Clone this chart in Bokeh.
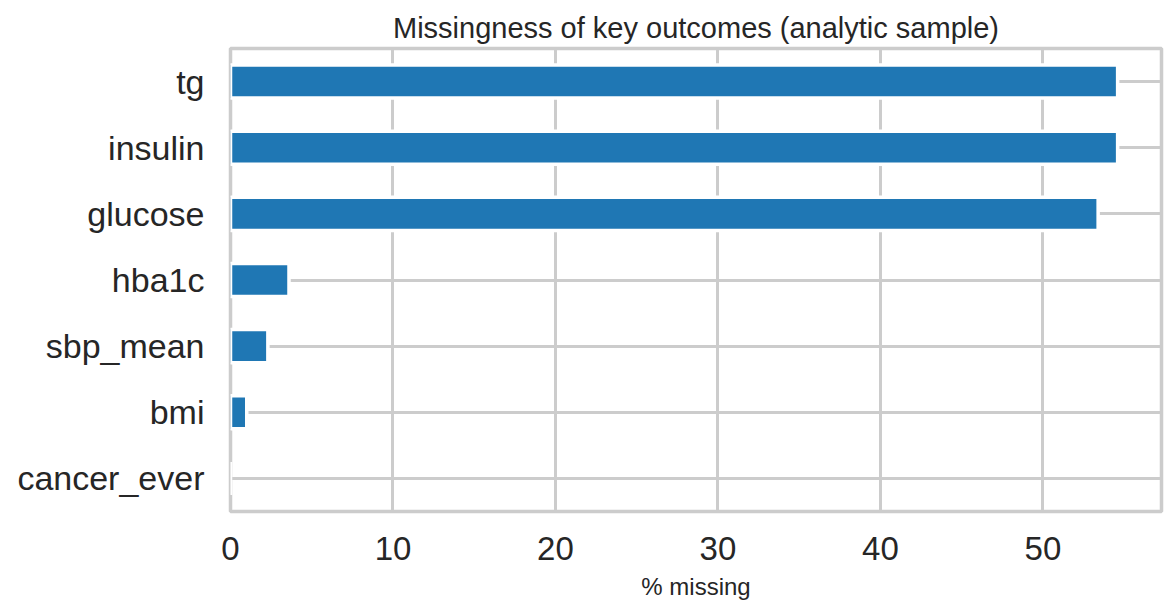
from bokeh.plotting import figure
from bokeh.models import ColumnDataSource, FactorRange, Range1d, FixedTicker
from bokeh.embed import file_html
from bokeh.resources import INLINE

# bottom to top, as in the picture
outcomes = ["cancer_ever", "bmi", "sbp_mean", "hba1c", "glucose", "insulin", "tg"]
pct_missing = [0.0, 1.0, 2.3, 3.6, 53.4, 54.6, 54.6]
x_ticks = [0, 10, 20, 30, 40, 50]

src = ColumnDataSource(data={"outcome": outcomes, "pct": pct_missing})

p = figure(y_range=FactorRange(*outcomes, range_padding=0),
           x_range=Range1d(0, 57.3),
           frame_width=931, frame_height=463,
           min_border_left=230, min_border_right=7,
           min_border_top=48, min_border_bottom=95,
           output_backend="svg", toolbar_location=None,
           title="Missingness of key outcomes (analytic sample)")

p.hbar(y="outcome", left=0, right="pct", height=0.5, source=src,
       fill_color="#1f77b4", line_color="white", line_width=3.5)

p.title.text_font = "Liberation Sans"
p.title.text_font_size = "29px"
p.title.text_font_style = "normal"
p.title.text_color = "#262626"
p.title.align = "center"

p.outline_line_color = "#cccccc"
p.outline_line_width = 3.5
p.outline_line_alpha = 1

p.xaxis.ticker = FixedTicker(ticks=x_ticks)
for ax in (p.xaxis, p.yaxis):
    ax.axis_line_color = None
    ax.major_tick_line_color = None
    ax.minor_tick_line_color = None
    ax.major_label_text_font = "Liberation Sans"
    ax.major_label_text_color = "#262626"

p.xaxis.major_label_text_font_size = "33px"
p.xaxis.major_label_standoff = 19
p.yaxis.major_label_text_font_size = "34px"
p.yaxis.major_label_standoff = 20

p.xaxis.axis_label = "% missing"
p.xaxis.axis_label_text_font = "Liberation Sans"
p.xaxis.axis_label_text_font_size = "24px"
p.xaxis.axis_label_text_font_style = "normal"
p.xaxis.axis_label_text_color = "#262626"
p.xaxis.axis_label_standoff = 10

p.xgrid.grid_line_color = "#cccccc"
p.xgrid.grid_line_width = 3
p.ygrid.grid_line_color = "#cccccc"
p.ygrid.grid_line_width = 3

open("out.html", "w").write(file_html(p, INLINE))
